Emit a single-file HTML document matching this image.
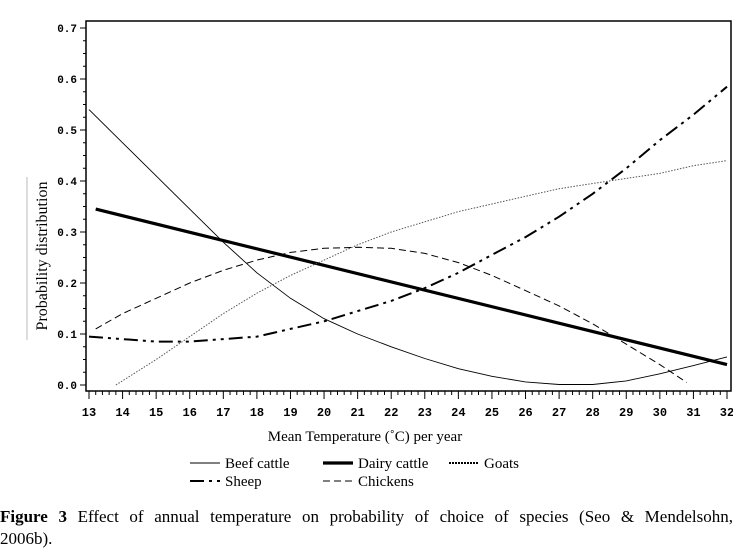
<!DOCTYPE html>
<html><head><meta charset="utf-8"><style>
body{margin:0;background:#fff;width:733px;height:547px;overflow:hidden;font-family:"Liberation Serif",serif}
svg{position:absolute;left:0;top:0}
.cap{position:absolute;left:0;top:506px;width:733px;font-size:17px;line-height:22px;color:#000}
.l1{text-align:justify;text-align-last:justify;white-space:nowrap}
</style></head><body>
<svg id="chart" width="733" height="500"></svg>
<div class="cap"><div class="l1" style="white-space:normal"><b>Figure 3</b> Effect of annual temperature on probability of choice of species (Seo &amp; Mendelsohn,</div><div>2006b).</div></div>
<script>
const xTicks=[13,14,15,16,17,18,19,20,21,22,23,24,25,26,27,28,29,30,31,32];
const yTicks=[0,0.1,0.2,0.3,0.4,0.5,0.6,0.7];
const beefX=[13,14,15,16,17,18,19,20,21,22,23,24,25,26,27,28,29,30,31,32];
const beefY=[0.54,0.475,0.41,0.345,0.28,0.22,0.17,0.13,0.10,0.075,0.052,0.032,0.017,0.006,0.001,0.001,0.008,0.022,0.038,0.055];
const dairyX=[13.2,32];
const dairyY=[0.345,0.04];
const sheepX=[13,14,15,16,17,18,19,20,21,22,23,24,25,26,27,28,29,30,31,32];
const sheepY=[0.095,0.09,0.085,0.085,0.09,0.095,0.11,0.125,0.145,0.165,0.19,0.22,0.255,0.29,0.33,0.375,0.425,0.48,0.53,0.585];
const goatX=[13.8,15,16,17,18,19,20,21,22,23,24,25,26,27,28,29,30,31,32];
const goatY=[0,0.05,0.095,0.14,0.18,0.215,0.245,0.275,0.3,0.32,0.34,0.355,0.37,0.385,0.395,0.405,0.415,0.43,0.44];
const chickX=[13.2,14,15,16,17,18,19,20,21,22,23,24,25,26,27,28,29,30,30.8];
const chickY=[0.11,0.14,0.17,0.2,0.225,0.245,0.26,0.268,0.27,0.268,0.258,0.24,0.215,0.185,0.155,0.12,0.08,0.04,0.005];
const NS='http://www.w3.org/2000/svg';
const svg=document.getElementById('chart');
const X=v=>89+(v-13)*(638/19);
const Y=v=>385-v*510;
function mk(t,a,p){const e=document.createElementNS(NS,t);for(const k in a)e.setAttribute(k,a[k]);(p||svg).appendChild(e);return e;}
const frame=mk('rect',{x:86,y:21,width:645,height:370,fill:'none',stroke:'#000','stroke-width':1.5});


yTicks.forEach(v=>{
  mk('line',{x1:80,x2:86,y1:Y(v),y2:Y(v),stroke:'#000'});
  const t=mk('text',{x:77,y:Y(v)+4,'text-anchor':'end','font-family':'Liberation Mono, monospace','font-weight':'bold','font-size':11});
  t.textContent=v.toFixed(1);
  
  
});
for(let v=0;v<0.7;v+=0.025){mk('line',{x1:83,x2:86,y1:Y(v),y2:Y(v),stroke:'#000'});}
xTicks.forEach(v=>{
  mk('line',{x1:X(v),x2:X(v),y1:391,y2:399,stroke:'#000'});
  if(v<32)for(let k=1;k<5;k++)mk('line',{x1:X(v+k/5),x2:X(v+k/5),y1:391,y2:395,stroke:'#000'});
  const t=mk('text',{x:X(v),y:416,'text-anchor':'middle','font-family':'Liberation Mono, monospace','font-weight':'bold','font-size':12});
  t.textContent=v;
  
  
});
const xt=mk('text',{x:365,y:441,'text-anchor':'middle','font-size':15});
xt.textContent='Mean Temperature (˚C) per year';


mk('line',{x1:27,x2:27,y1:177,y2:340,stroke:'#bbb'});
const yt=mk('text',{x:47,y:256,'text-anchor':'middle','font-size':16,transform:'rotate(-90 47 256)'});
yt.textContent='Probability distribution';


function series(xs,ys,st,name){
  const d=xs.map((x,i)=>(i?'L':'M')+X(x).toFixed(1)+' '+Y(ys[i]).toFixed(1)).join(' ');
  const p=mk('path',Object.assign({d:d,fill:'none',stroke:'#000'},st));
  
  
}
const sBeef={'stroke-width':0.9},sDairy={'stroke-width':3.2},sSheep={'stroke-width':2,'stroke-dasharray':'14 5 3 5 3 5'},sGoat={'stroke-width':1,'stroke-dasharray':'1.5 1.5',stroke:'#555'},sChick={'stroke-width':1,'stroke-dasharray':'7 4'};
series(beefX,beefY,sBeef,'beef-cattle-line');
series(dairyX,dairyY,sDairy,'dairy-cattle-line');
series(sheepX,sheepY,sSheep,'sheep-line');
series(goatX,goatY,sGoat,'goats-line');
series(chickX,chickY,sChick,'chickens-line');
function leg(x,y,st,label,name){
  const g=mk('g',{});
  
  
  mk('line',Object.assign({x1:x,x2:x+30,y1:y-5,y2:y-5,stroke:'#000'},st),g);
  const t=mk('text',{x:x+35,y:y,'font-size':15},g);t.textContent=label;
}
leg(190,468,sBeef,'Beef cattle','legend-beef-cattle');
leg(323,468,sDairy,'Dairy cattle','legend-dairy-cattle');
leg(449,468,{'stroke-width':2,'stroke-dasharray':'2 1'},'Goats','legend-goats');
leg(190,486,sSheep,'Sheep','legend-sheep');
leg(323,486,sChick,'Chickens','legend-chickens');
</script>
</body></html>
